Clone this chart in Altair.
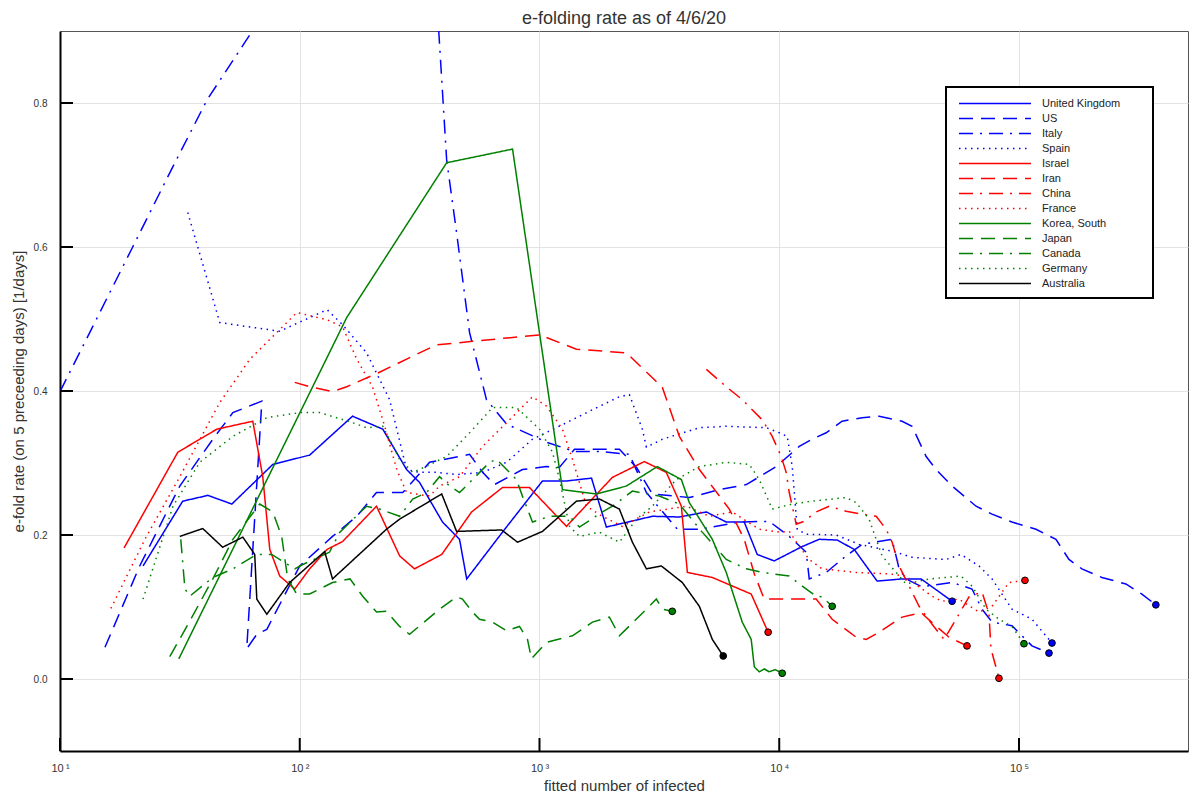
import altair as alt
import pandas as pd

FONT = "Liberation Sans"
TITLE = "e-folding rate as of 4/6/20"

countries = ["United Kingdom", "US", "Italy", "Spain", "Israel", "Iran", "China", "France",
             "Korea, South", "Japan", "Canada", "Germany", "Australia"]
line_colors = ["#0000ff"] * 4 + ["#ff0000"] * 4 + ["#008000"] * 4 + ["#000000"]
dash_styles = [[1, 0], [14, 8], [14, 7, 2, 7], [1.5, 4.5]] * 3 + [[1, 0]]

x_tick_values = [10, 100, 1000, 10000, 100000]
y_tick_values = [0.0, 0.2, 0.4, 0.6, 0.8]

uk_n = [22.2, 32.5, 41.4, 52.1, 77.2, 110, 166, 222, 279, 316, 394, 464, 497, 701, 1029, 1296, 1648, 1901,
        2957, 3831, 4966, 6012, 7147, 8096, 9530, 12480, 14680, 17450, 20540, 25600, 32550, 39070, 52600]
uk_r = [0.157, 0.247, 0.255, 0.243, 0.298, 0.311, 0.365, 0.347, 0.291, 0.273, 0.218, 0.194, 0.139, 0.204,
        0.275, 0.275, 0.279, 0.211, 0.226, 0.225, 0.232, 0.218, 0.218, 0.173, 0.164, 0.184, 0.194, 0.193,
        0.180, 0.136, 0.139, 0.139, 0.108]

us_n = [15.4, 21.5, 31.6, 43.4, 52.6, 69.5, 60.1, 66.2, 72.9, 100, 137, 173, 209, 269, 348, 511, 579, 649,
        849, 1069, 1212, 1399, 2154, 2537, 2957, 4217, 5623, 7290, 9716, 12120, 13730, 15700, 18300, 22180,
        26100, 32550, 35800, 41000, 45100, 52600, 66200, 77200, 93500, 117700, 142600, 161600, 183000,
        221800, 279200, 325500, 372300]
us_r = [0.044, 0.157, 0.268, 0.333, 0.370, 0.386, 0.042, 0.062, 0.069, 0.157, 0.198, 0.226, 0.259, 0.259,
        0.301, 0.312, 0.287, 0.270, 0.291, 0.295, 0.294, 0.319, 0.319, 0.294, 0.257, 0.252, 0.263, 0.270,
        0.295, 0.323, 0.333, 0.342, 0.358, 0.363, 0.365, 0.358, 0.351, 0.309, 0.291, 0.268, 0.240, 0.229,
        0.218, 0.208, 0.194, 0.166, 0.153, 0.141, 0.132, 0.118, 0.103]

italy_n = [10, 14.3, 20.1, 28.7, 41.0, 63.7, 100, 215, 355, 410, 451, 511, 601, 729, 1069, 1399, 1778, 2371,
           2792, 3758, 4642, 6810, 9080, 11010, 12960, 13340, 15700, 19010, 22180, 29570, 31620, 33800,
           39430, 52600, 63700, 70100, 77200, 93500, 113300, 133400]
italy_r = [0.399, 0.502, 0.600, 0.703, 0.804, 0.901, 1.02, 1.10, 1.06, 0.721, 0.620, 0.481, 0.388, 0.354,
           0.329, 0.316, 0.316, 0.312, 0.259, 0.208, 0.208, 0.218, 0.219, 0.198, 0.176, 0.139, 0.148, 0.171,
           0.187, 0.194, 0.153, 0.139, 0.128, 0.134, 0.125, 0.097, 0.079, 0.074, 0.046, 0.036]

spain_n = [34.1, 46.4, 82.5, 130, 151, 190, 237, 279, 316, 372, 451, 579, 729, 935, 1296, 1663, 2154, 2371,
           2685, 2792, 3255, 4642, 6012, 8830, 10000, 10800, 11330, 11890, 12960, 17280, 21540, 30130, 35800,
           49650, 57300, 68100, 77200, 93500, 113300, 137300]
spain_r = [0.648, 0.495, 0.483, 0.513, 0.492, 0.453, 0.388, 0.291, 0.287, 0.287, 0.284, 0.287, 0.301, 0.333,
           0.356, 0.374, 0.392, 0.395, 0.347, 0.322, 0.333, 0.349, 0.351, 0.349, 0.342, 0.337, 0.295, 0.208,
           0.201, 0.200, 0.187, 0.177, 0.169, 0.166, 0.173, 0.157, 0.139, 0.097, 0.083, 0.050]

israel_n = [18.5, 31.0, 45.1, 63.7, 70.1, 75.0, 82.5, 95.3, 110, 130, 151, 209, 261, 301, 391, 521, 701, 908,
            1296, 2014, 2738, 3380, 3906, 4138, 5260, 7640, 8990]
israel_r = [0.182, 0.315, 0.347, 0.358, 0.281, 0.180, 0.143, 0.125, 0.153, 0.180, 0.191, 0.240, 0.171, 0.153,
            0.173, 0.232, 0.266, 0.266, 0.212, 0.280, 0.302, 0.287, 0.240, 0.148, 0.141, 0.118, 0.065]

iran_n = [95.3, 110, 137, 157, 215, 316, 372, 526, 1000, 1426, 2304, 3255, 3831, 4642, 6190, 7147, 7870, 8660,
          10490, 14260, 16630, 20940, 23040, 26100, 32550, 39070, 44200, 51100, 60700]
iran_r = [0.412, 0.406, 0.399, 0.406, 0.426, 0.453, 0.464, 0.469, 0.478, 0.458, 0.453, 0.405, 0.337, 0.291,
          0.236, 0.194, 0.146, 0.111, 0.111, 0.111, 0.083, 0.058, 0.055, 0.065, 0.086, 0.092, 0.076, 0.058,
          0.046]

china_n = [4966, 6012, 7010, 8490, 9350, 10190, 10690, 11010, 11770, 12700, 14260, 16160, 19010, 22180, 25370,
           27920, 29570, 31620, 34800, 38310, 43400, 48700, 54600, 61900, 70100, 75000, 76400, 82500]
china_r = [0.430, 0.406, 0.388, 0.360, 0.337, 0.309, 0.287, 0.259, 0.215, 0.219, 0.232, 0.240, 0.233, 0.229,
           0.226, 0.208, 0.190, 0.157, 0.129, 0.101, 0.076, 0.055, 0.083, 0.114, 0.121, 0.090, 0.042, 0.001]

france_n = [16.3, 22.6, 31.6, 46.4, 61.9, 97.2, 130, 151, 173, 201, 222, 254, 279, 348, 383, 464, 579, 729, 935,
            1069, 1247, 1373, 1570, 1830, 2218, 2873, 4100, 5110, 6370, 8250, 10000, 11010, 12120, 13340,
            15100, 20940, 28730, 33800, 38310, 43400, 47700, 56200, 68100, 77200, 90800, 105900]
france_r = [0.098, 0.194, 0.281, 0.384, 0.444, 0.509, 0.499, 0.489, 0.444, 0.406, 0.360, 0.291, 0.259, 0.254,
            0.268, 0.281, 0.323, 0.356, 0.392, 0.379, 0.347, 0.305, 0.240, 0.226, 0.212, 0.232, 0.240, 0.226,
            0.232, 0.208, 0.204, 0.205, 0.184, 0.166, 0.153, 0.148, 0.146, 0.143, 0.128, 0.115, 0.108, 0.111,
            0.093, 0.101, 0.134, 0.137]

korea_n = [31.3, 157, 410, 772, 1247, 1728, 2304, 3100, 3906, 4217, 5260, 6012, 7010, 7640, 7870, 8250, 8660,
           9080, 9620, 10290]
korea_r = [0.028, 0.502, 0.717, 0.736, 0.263, 0.257, 0.268, 0.295, 0.277, 0.245, 0.194, 0.148, 0.079, 0.055,
           0.017, 0.010, 0.014, 0.010, 0.013, 0.008]

japan_n = [28.7, 33.8, 43.4, 52.6, 68.1, 77.2, 84.1, 89.1, 97.2, 110, 137, 162, 183, 209, 230, 261, 287, 383,
           451, 477, 526, 562, 637, 729, 825, 891, 926, 1069, 1373, 1663, 1957, 2154, 2792, 3072, 3255, 3580]
japan_r = [0.031, 0.073, 0.139, 0.194, 0.243, 0.232, 0.198, 0.139, 0.118, 0.118, 0.134, 0.139, 0.115, 0.093,
           0.094, 0.073, 0.062, 0.097, 0.114, 0.111, 0.093, 0.083, 0.079, 0.067, 0.073, 0.055, 0.028, 0.051,
           0.060, 0.079, 0.086, 0.060, 0.097, 0.111, 0.097, 0.094]

canada_n = [31.9, 33.2, 34.8, 43.4, 52.6, 66.2, 76.4, 95.3, 103, 133, 147, 190, 215, 261, 296, 338, 383, 422,
            464, 526, 619, 662, 750, 802, 849, 935, 1101, 1334, 1468, 1830, 2014, 2441, 3162, 3831, 4775, 6012,
            7290, 8490, 11010, 12480, 14260, 15100, 16630]
canada_r = [0.194, 0.125, 0.115, 0.141, 0.153, 0.173, 0.173, 0.153, 0.159, 0.176, 0.204, 0.240, 0.236, 0.226,
            0.250, 0.259, 0.281, 0.268, 0.259, 0.277, 0.301, 0.305, 0.287, 0.277, 0.254, 0.218, 0.226, 0.226,
            0.211, 0.232, 0.240, 0.261, 0.254, 0.243, 0.204, 0.166, 0.153, 0.148, 0.143, 0.129, 0.115, 0.114,
            0.101]

germany_n = [22.2, 29.6, 38.3, 52.6, 72.9, 100, 121, 166, 190, 222, 261, 296, 316, 410, 511, 637, 802, 1000,
             1133, 1212, 1334, 1468, 1778, 2154, 2537, 2957, 3723, 4642, 6012, 7500, 8250, 9350, 11330, 13730,
             19010, 20940, 23710, 25370, 26850, 30720, 33800, 42170, 49650, 57300, 63700, 72900, 82500, 93500,
             104900]
germany_r = [0.111, 0.240, 0.301, 0.337, 0.363, 0.370, 0.370, 0.356, 0.349, 0.351, 0.305, 0.287, 0.291, 0.309,
             0.342, 0.377, 0.377, 0.347, 0.315, 0.277, 0.212, 0.198, 0.204, 0.190, 0.222, 0.240, 0.277, 0.295,
             0.301, 0.298, 0.277, 0.236, 0.243, 0.247, 0.252, 0.245, 0.222, 0.194, 0.171, 0.148, 0.132, 0.139,
             0.141, 0.143, 0.129, 0.097, 0.083, 0.073, 0.049]

australia_n = [31.6, 39.4, 47.7, 57.9, 64.9, 66.2, 72.9, 90.8, 127, 137, 230, 261, 391, 451, 695, 810, 1029,
               1426, 1778, 2154, 2441, 2792, 3223, 3943, 4642, 5260, 5840]
australia_r = [0.198, 0.209, 0.183, 0.197, 0.173, 0.111, 0.090, 0.134, 0.177, 0.139, 0.208, 0.222, 0.257,
               0.205, 0.207, 0.190, 0.205, 0.247, 0.250, 0.236, 0.190, 0.153, 0.157, 0.134, 0.101, 0.055, 0.032]

series = {
    "United Kingdom": (uk_n, uk_r), "US": (us_n, us_r), "Italy": (italy_n, italy_r),
    "Spain": (spain_n, spain_r), "Israel": (israel_n, israel_r), "Iran": (iran_n, iran_r),
    "China": (china_n, china_r), "France": (france_n, france_r), "Korea, South": (korea_n, korea_r),
    "Japan": (japan_n, japan_r), "Canada": (canada_n, canada_r), "Germany": (germany_n, germany_r),
    "Australia": (australia_n, australia_r),
}

rows = []
for c in countries:
    ns, rs = series[c]
    for i, (n, r) in enumerate(zip(ns, rs)):
        rows.append({"country": c, "N": n, "rate": r, "i": i})
df = pd.DataFrame(rows)
ends = df.groupby("country", sort=False).tail(1)

XT = "fitted number of infected"
YT = "e-fold rate (on 5 preceeding days) [1/days]"

xscale = alt.Scale(type="log", domain=[10, 507000], nice=False)
yscale = alt.Scale(domain=[-0.1, 0.9], nice=False, zero=False)

xaxis = alt.Axis(
    values=x_tick_values,
    labelExpr="datum.value == 10 ? '10\u2009\u00b9' : datum.value == 100 ? '10\u2009\u00b2' : "
              "datum.value == 1000 ? '10\u2009\u00b3' : datum.value == 10000 ? '10\u2009\u2074' : '10\u2009\u2075'",
    grid=True, tickSize=0, labelPadding=11, titlePadding=5, labelFontSize=11, labelFlush=False,
)
yaxis = alt.Axis(values=y_tick_values, format=".1f", grid=True, tickSize=0, labelPadding=13,
                 titlePadding=7, labelFontSize=10)

leg = alt.Legend(
    title=None, orient="none", legendX=886, legendY=57, symbolType="stroke", symbolSize=5184,
    symbolStrokeWidth=1.5, symbolOffset=4, labelFont=FONT, labelFontSize=11, labelColor="#222",
    labelAlign="left", padding=8, labelOffset=10, clipHeight=15, rowPadding=0, labelLimit=250,
)

lines = alt.Chart(df).mark_line(clip=True, strokeWidth=1.5).encode(
    x=alt.X("N:Q", scale=xscale, axis=xaxis, title=XT),
    y=alt.Y("rate:Q", scale=yscale, axis=yaxis, title=YT),
    color=alt.Color("country:N", scale=alt.Scale(domain=countries, range=line_colors), legend=leg),
    strokeDash=alt.StrokeDash("country:N", scale=alt.Scale(domain=countries, range=dash_styles), legend=leg),
    order=alt.Order("i:Q"),
)

dots = alt.Chart(ends).mark_circle(size=45, stroke="black", strokeWidth=1, opacity=1).encode(
    x=alt.X("N:Q", title=XT),
    y=alt.Y("rate:Q", title=YT),
    fill=alt.Fill("country:N", scale=alt.Scale(domain=countries, range=line_colors), legend=None),
)

yticks = alt.Chart(pd.DataFrame({"rate": y_tick_values})).mark_rule(color="black", strokeWidth=2).encode(
    y=alt.Y("rate:Q", title=YT), x=alt.value(0), x2=alt.value(13)
)
xticks = alt.Chart(pd.DataFrame({"N": x_tick_values})).mark_rule(color="black", strokeWidth=2).encode(
    x=alt.X("N:Q", title=XT), y=alt.value(720), y2=alt.value(707)
)

# opaque frame behind the legend entries
legend_box = alt.Chart(pd.DataFrame({"box": [0]})).mark_rect(
    fill="white", stroke="black", strokeWidth=2
).encode(x=alt.value(886), x2=alt.value(1093), y=alt.value(56), y2=alt.value(267))

# chart title, placed above the plot frame
title_text = alt.Chart(pd.DataFrame({"t": [TITLE]})).mark_text(
    font=FONT, fontSize=18, color="#333", align="center", baseline="alphabetic"
).encode(text="t:N", x=alt.value(564), y=alt.value(-7))

chart = alt.layer(lines, dots, yticks, xticks, legend_box, title_text).properties(
    width=1128, height=720,
    padding={"left": 52, "top": 23, "right": 4, "bottom": 41},
    autosize=alt.AutoSizeParams(type="none"),
).configure_view(stroke="#555", strokeWidth=1).configure_axis(
    labelFont=FONT, titleFont=FONT, labelColor="#333", titleColor="#333", domainColor="black",
    domainWidth=2, gridColor="#e3e3e3", gridWidth=1, titleFontWeight="normal", titleFontSize=15,
)

chart.save("out.html", embed_options={"renderer": "svg", "actions": False})
